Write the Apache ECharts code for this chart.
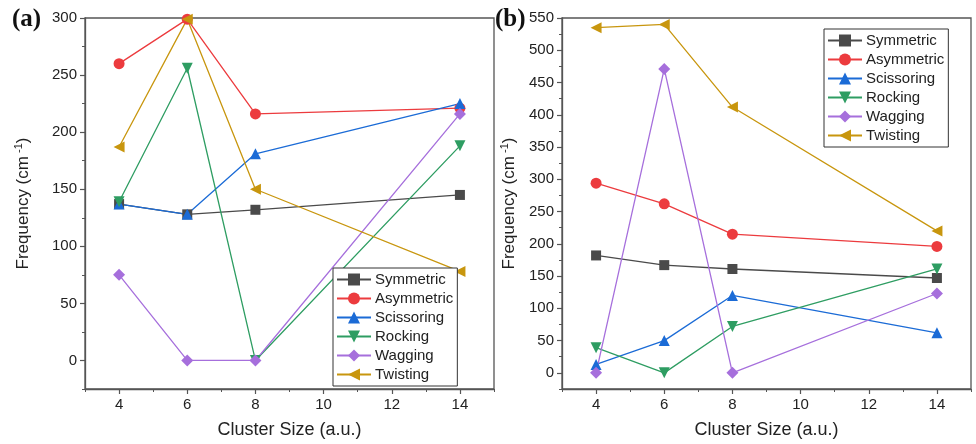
<!DOCTYPE html>
<html>
<head>
<meta charset="utf-8">
<script src="https://cdn.jsdelivr.net/npm/echarts@6/dist/echarts.min.js"></script>
<style>
html,body{margin:0;padding:0;background:#fff;}
#chart{width:976px;height:444px;}
</style>
</head>
<body>
<div id="chart"></div>
<script>
// ---- data ----
const sizes = [4, 6, 8, 14];
const seriesNames = ['Symmetric', 'Asymmetric', 'Scissoring', 'Rocking', 'Wagging', 'Twisting'];

const a_symmetric  = [137, 128, 132, 145];
const a_asymmetric = [260, 299, 216, 221];
const a_scissoring = [137, 128, 181, 225];
const a_rocking    = [139, 256, 0, 188];
const a_wagging    = [75, 0, 0, 216];
const a_twisting   = [187, 299, 150, 78];

const b_symmetric  = [182, 167, 161, 147];
const b_asymmetric = [294, 262, 215, 196];
const b_scissoring = [13, 50, 120, 62];
const b_rocking    = [39, 0, 72, 161];
const b_wagging    = [0, 471, 0, 123];
const b_twisting   = [535, 540, 412, 220];

const xMajorTicks = [4, 6, 8, 10, 12, 14];
const xMinorTicks = [3, 5, 7, 9, 11, 13, 15];
const a_yMajorTicks = [0, 50, 100, 150, 200, 250, 300];
const a_yMinorTicks = [-25, 25, 75, 125, 175, 225, 275];
const b_yMajorTicks = [0, 50, 100, 150, 200, 250, 300, 350, 400, 450, 500, 550];
const b_yMinorTicks = [-25, 25, 75, 125, 175, 225, 275, 325, 375, 425, 475, 525];

// ---- styles ----
const colors = ['#4a4a4a', '#ec3b3e', '#1b6bd6', '#2e9d62', '#a66fdc', '#c8960e'];
const symbols = ['rect', 'circle', 'triangle', 'triangle', 'diamond', 'triangle'];
const rotates = [0, 0, 0, 180, 0, 90];
const sizesSym = [10, 11, 11, 11, 12, 11];
const font = 'Liberation Sans, Arial, sans-serif';
const axisColor = '#555';

const chart = echarts.init(document.getElementById('chart'), null, {renderer: 'canvas'});

const grids = [
  {left: 85, top: 18, width: 409, height: 372},
  {left: 562, top: 18, width: 409, height: 372}
];

function xAxes(gi) {
  return [
    {
      gridIndex: gi, type: 'value', min: 3, max: 15, interval: 1, position: 'bottom',
      axisLine: {show: true, onZero: false, lineStyle: {color: axisColor, width: 1.3}},
      axisTick: {show: true, customValues: xMajorTicks, length: 5, lineStyle: {color: axisColor, width: 1.2}},
      axisLabel: {customValues: xMajorTicks, fontSize: 15, color: '#222', fontFamily: font, margin: 8},
      splitLine: {show: false},
      name: 'Cluster Size (a.u.)', nameLocation: 'middle', nameGap: 32,
      nameTextStyle: {fontSize: 18, color: '#222', fontFamily: font}
    },
    {
      gridIndex: gi, type: 'value', min: 3, max: 15, interval: 1, position: 'bottom', offset: 0,
      axisLine: {show: false, onZero: false},
      axisTick: {show: true, customValues: xMinorTicks, length: 3, lineStyle: {color: axisColor, width: 1}},
      axisLabel: {show: false},
      splitLine: {show: false}
    }
  ];
}

function yAxes(gi, maxV, majors, minors, gap) {
  return [
    {
      gridIndex: gi, type: 'value', min: -25, max: maxV, interval: 25, position: 'left',
      axisLine: {show: true, onZero: false, lineStyle: {color: axisColor, width: 1.3}},
      axisTick: {show: true, customValues: majors, length: 5, lineStyle: {color: axisColor, width: 1.2}},
      axisLabel: {customValues: majors, fontSize: 15, color: '#222', fontFamily: font, margin: 8},
      splitLine: {show: false},
      name: '{n|Frequency (cm}{s| -1}{n|)}', nameLocation: 'middle', nameGap: gap,
      nameTextStyle: {
        color: '#222', fontFamily: font,
        rich: {
          n: {fontSize: 17, color: '#222', fontFamily: font},
          s: {fontSize: 11, color: '#222', fontFamily: font, padding: [0, 0, 9, 0]}
        }
      }
    },
    {
      gridIndex: gi, type: 'value', min: -25, max: maxV, interval: 25, position: 'left', offset: 0,
      axisLine: {show: false, onZero: false},
      axisTick: {show: true, customValues: minors, length: 3, lineStyle: {color: axisColor, width: 1}},
      axisLabel: {show: false},
      splitLine: {show: false}
    }
  ];
}

function makeSeries(gi, arrays) {
  return arrays.map((vals, k) => ({
    name: seriesNames[k],
    type: 'line',
    xAxisIndex: gi * 2,
    yAxisIndex: gi * 2,
    data: sizes.map((s, j) => [s, vals[j]]),
    symbol: symbols[k],
    symbolRotate: rotates[k],
    symbolSize: sizesSym[k],
    showAllSymbol: true,
    color: colors[k],
    itemStyle: {color: colors[k]},
    lineStyle: {color: colors[k], width: 1.3},
    emphasis: {disabled: true},
    animation: false
  }));
}

const legendCommon = {
  orient: 'vertical',
  itemWidth: 34, itemHeight: 15, itemGap: 4,
  padding: [4, 4, 4, 3],
  borderColor: '#333', borderWidth: 1,
  backgroundColor: '#fff',
  textStyle: {fontSize: 15, color: '#222', fontFamily: font, padding: [0, 0, 0, -1]},
  data: seriesNames
};

const option = {
  backgroundColor: '#fff',
  animation: false,
  grid: grids.map(g => Object.assign({show: true, borderColor: axisColor, borderWidth: 1.3, backgroundColor: 'transparent'}, g)),
  xAxis: [].concat(xAxes(0), xAxes(1)),
  yAxis: [].concat(
    yAxes(0, 300, a_yMajorTicks, a_yMinorTicks, 52),
    yAxes(1, 550, b_yMajorTicks, b_yMinorTicks, 43)
  ),
  legend: [
    Object.assign({left: 333, top: 268}, legendCommon),
    Object.assign({left: 824, top: 29}, legendCommon)
  ],
  series: [].concat(
    makeSeries(0, [a_symmetric, a_asymmetric, a_scissoring, a_rocking, a_wagging, a_twisting]),
    makeSeries(1, [b_symmetric, b_asymmetric, b_scissoring, b_rocking, b_wagging, b_twisting])
  ),
  graphic: [
    {type: 'text', left: 12, top: 7, style: {text: '(a)', font: 'bold 25px "Liberation Serif", "Times New Roman", serif', fill: '#111'}},
    {type: 'text', left: 495, top: 7, style: {text: '(b)', font: 'bold 25px "Liberation Serif", "Times New Roman", serif', fill: '#111'}}
  ]
};
chart.setOption(option);
</script>
</body>
</html>
